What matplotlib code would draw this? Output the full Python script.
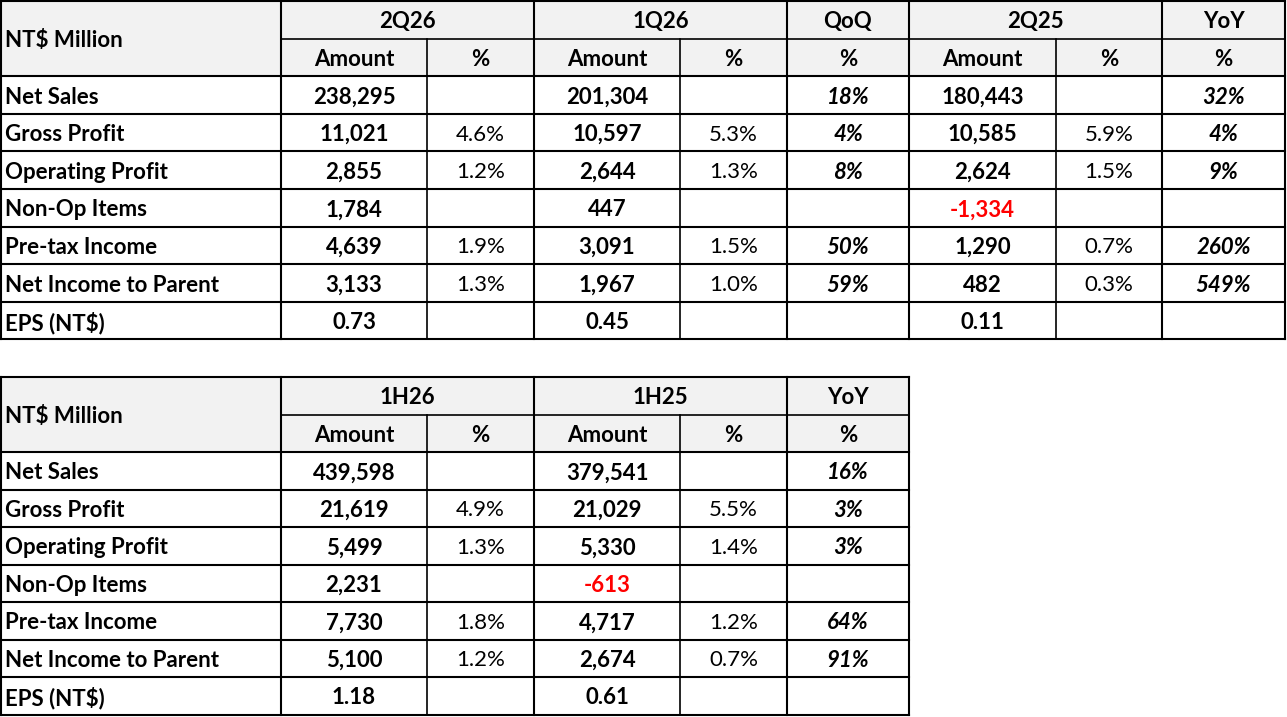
import matplotlib
matplotlib.use("Agg")
import matplotlib.pyplot as plt

plt.rcParams['font.family'] = ['Lato', 'DejaVu Sans']

# Row labels shared by both tables
row_labels = ["Net Sales", "Gross Profit", "Operating Profit", "Non-Op Items",
              "Pre-tax Income", "Net Income to Parent", "EPS (NT$)"]

# Quarterly table
q_groups = ["2Q26", "1Q26", "QoQ", "2Q25", "YoY"]
q_group_span = [2, 2, 1, 2, 1]
q_sub = ["Amount", "%", "Amount", "%", "%", "Amount", "%", "%"]
amt_2q26 = ["238,295", "11,021", "2,855", "1,784", "4,639", "3,133", "0.73"]
pct_2q26 = ["", "4.6%", "1.2%", "", "1.9%", "1.3%", ""]
amt_1q26 = ["201,304", "10,597", "2,644", "447", "3,091", "1,967", "0.45"]
pct_1q26 = ["", "5.3%", "1.3%", "", "1.5%", "1.0%", ""]
qoq = ["18%", "4%", "8%", "", "50%", "59%", ""]
amt_2q25 = ["180,443", "10,585", "2,624", "-1,334", "1,290", "482", "0.11"]
pct_2q25 = ["", "5.9%", "1.5%", "", "0.7%", "0.3%", ""]
yoy_q = ["32%", "4%", "9%", "", "260%", "549%", ""]

# Half-year table
h_groups = ["1H26", "1H25", "YoY"]
h_group_span = [2, 2, 1]
h_sub = ["Amount", "%", "Amount", "%", "%"]
amt_1h26 = ["439,598", "21,619", "5,499", "2,231", "7,730", "5,100", "1.18"]
pct_1h26 = ["", "4.9%", "1.3%", "", "1.8%", "1.2%", ""]
amt_1h25 = ["379,541", "21,029", "5,330", "-613", "4,717", "2,674", "0.61"]
pct_1h25 = ["", "5.5%", "1.4%", "", "1.2%", "0.7%", ""]
yoy_h = ["16%", "3%", "3%", "", "64%", "91%", ""]

W, H = 1287, 717
fig = plt.figure(figsize=(W / 100, H / 100), dpi=100)
ax = fig.add_axes([0, 0, 1, 1])
ax.set_xlim(0, W)
ax.set_ylim(H, 0)
ax.axis('off')

FS = 16
LW = 1.2
HDR_BG = '#F2F2F2'
DY = 2  # text sits a little below cell centre


def draw_table(x_edges, top, row_h, groups, spans, subs, columns, kinds):
    n_rows = 2 + len(row_labels)
    y_edges = [top + i * row_h for i in range(n_rows + 1)]
    right = x_edges[-1]
    bottom = y_edges[-1]
    # header background
    ax.fill_between([x_edges[0], right], top, y_edges[2], color=HDR_BG, lw=0)

    # corner label
    ax.text(x_edges[0] + 4, (top + y_edges[2]) / 2 + DY, "NT$ Million",
            fontsize=FS, fontweight='bold', va='center', ha='left')

    # group headers
    c = 1
    for g, s in zip(groups, spans):
        x0, x1 = x_edges[c], x_edges[c + s]
        ax.text((x0 + x1) / 2, (y_edges[0] + y_edges[1]) / 2 + DY, g,
                fontsize=FS, fontweight='bold', ha='center', va='center')
        c += s
    # sub headers
    for j, sname in enumerate(subs):
        x0, x1 = x_edges[j + 1], x_edges[j + 2]
        ax.text((x0 + x1) / 2, (y_edges[1] + y_edges[2]) / 2 + DY, sname,
                fontsize=FS, fontweight='bold', ha='center', va='center')

    # body
    for i, lab in enumerate(row_labels):
        yc = (y_edges[i + 2] + y_edges[i + 3]) / 2 + DY
        ax.text(x_edges[0] + 4, yc, lab, fontsize=FS, fontweight='bold',
                ha='left', va='center')
        for j, (col, kind) in enumerate(zip(columns, kinds)):
            val = col[i]
            if not val:
                continue
            xc = (x_edges[j + 1] + x_edges[j + 2]) / 2
            color = 'black'
            weight, style = 'normal', 'normal'
            if kind == 'amt':
                weight = 'bold'
                if val.startswith('-'):
                    color = '#FF0000'
            elif kind == 'chg':
                weight, style = 'bold', 'italic'
            ax.text(xc, yc, val, fontsize=FS, fontweight=weight, fontstyle=style,
                    color=color, ha='center', va='center')

    # horizontal lines
    for k, y in enumerate(y_edges):
        x_start = x_edges[1] if k == 1 else x_edges[0]
        ax.plot([x_start, right], [y, y], color='black',
                lw=LW if k == 1 else LW + 0.3, solid_capstyle='projecting')
    # vertical lines
    ax.plot([x_edges[0], x_edges[0]], [top, bottom], color='black', lw=LW + 0.3)
    ax.plot([x_edges[1], x_edges[1]], [top, bottom], color='black', lw=LW + 0.3)
    c = 1
    for s in spans:
        xb = x_edges[c + s]
        ax.plot([xb, xb], [top, bottom], color='black', lw=LW + 0.3)
        for m in range(1, s):
            xm = x_edges[c + m]
            ax.plot([xm, xm], [y_edges[1], bottom], color='black', lw=LW)
        c += s


draw_table([1, 281, 427, 534, 680, 787, 909, 1056, 1162, 1285], 1, 37.6,
           q_groups, q_group_span, q_sub,
           [amt_2q26, pct_2q26, amt_1q26, pct_1q26, qoq, amt_2q25, pct_2q25, yoy_q],
           ['amt', 'pct', 'amt', 'pct', 'chg', 'amt', 'pct', 'chg'])

draw_table([1, 281, 427, 534, 680, 787, 909], 377, 37.5,
           h_groups, h_group_span, h_sub,
           [amt_1h26, pct_1h26, amt_1h25, pct_1h25, yoy_h],
           ['amt', 'pct', 'amt', 'pct', 'chg'])

fig.savefig("out.png", dpi=100, facecolor='white')
